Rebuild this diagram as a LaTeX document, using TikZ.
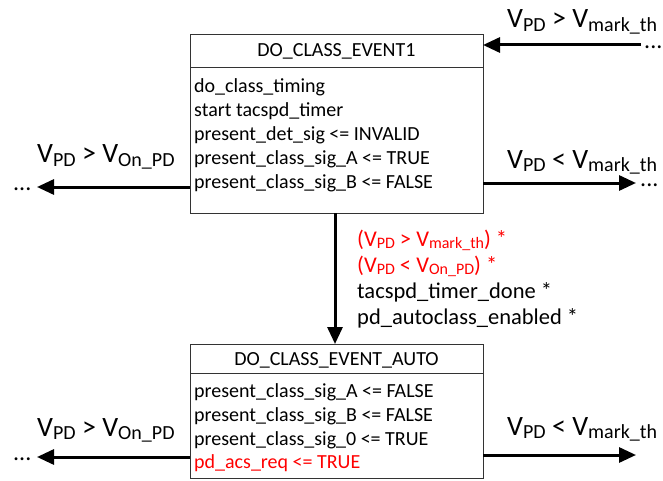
\documentclass[tikz,border=0pt]{standalone}
\usepackage{fontspec}
\setmainfont{Carlito}
\usetikzlibrary{arrows.meta}
\newcommand\sbs[1]{\raisebox{-3.5pt}{\fontsize{20}{20}\selectfont #1}}
\newcommand\sbm[1]{\raisebox{-2.8pt}{\fontsize{16}{16}\selectfont #1}}
\definecolor{redtxt}{RGB}{255,0,0}
\begin{document}
\begin{tikzpicture}[x=1pt,y=-1pt,
  box/.style={draw=black!80, line width=0.9pt, fill=white, inner sep=0pt, anchor=north west},
  ln/.style={anchor=base west, inner sep=0pt, font=\fontsize{20}{24}\selectfont},
  hd/.style={anchor=base, inner sep=0pt, font=\fontsize{20}{24}\selectfont},
  lbl/.style={anchor=base west, inner sep=0pt, font=\fontsize{28}{32}\selectfont},
  cnd/.style={anchor=base west, inner sep=0pt, font=\fontsize{22.5}{26}\selectfont},
  dts/.style={anchor=base west, inner sep=0pt, font=\fontsize{24}{26}\selectfont},
  arr/.style={line width=3pt, -{Triangle[length=17pt,width=15pt]}}
]
\useasboundingbox (0,0) rectangle (663,481);

% box 1
\node[box, minimum width=293pt, minimum height=33pt] (h1) at (190,34) {};
\node[box, minimum width=293pt, minimum height=146pt] (b1) at (190,67) {};
\node[hd] (h1t) at (336.5,57) {DO\_CLASS\_EVENT1};
\node[ln] (l11) at (194,93) {do\_class\_timing};
\node[ln] (l12) at (194,117) {start tacspd\_timer};
\node[ln] (l13) at (194,141) {present\_det\_sig <= INVALID};
\node[ln] (l14) at (194,164.5) {present\_class\_sig\_A <= TRUE};
\node[ln] (l15) at (194,188) {present\_class\_sig\_B <= FALSE};

% box 2
\node[box, minimum width=293pt, minimum height=29pt] (h2) at (190,344) {};
\node[box, minimum width=293pt, minimum height=105pt] (b2) at (190,373) {};
\node[hd] (h2t) at (336.5,365) {DO\_CLASS\_EVENT\_AUTO};
\node[ln] (l21) at (194,397) {present\_class\_sig\_A <= FALSE};
\node[ln] (l22) at (194,421) {present\_class\_sig\_B <= FALSE};
\node[ln] (l23) at (194,445) {present\_class\_sig\_0 <= TRUE};
\node[ln, text=redtxt] (l24) at (194,468) {pd\_acs\_req <= TRUE};

% coordinates
\coordinate (trS) at (641,45);
\coordinate (trE) at (483,45);
\coordinate (l1S) at (190,187);
\coordinate (l1E) at (37,187);
\coordinate (r1S) at (483,183);
\coordinate (r1E) at (636,183);
\coordinate (vS) at (335,213);
\coordinate (vE) at (335,344);
\coordinate (l2S) at (190,457);
\coordinate (l2E) at (37,457);
\coordinate (r2S) at (483,455);
\coordinate (r2E) at (636,455);

\draw[arr] (trS) -- (trE);
\draw[arr] (l1S) -- (l1E);
\draw[arr] (r1S) -- (r1E);
\draw[arr] (vS) -- (vE);
\draw[arr] (l2S) -- (l2E);
\draw[arr] (r2S) -- (r2E);

% dots
\node[dts] (d1) at (644,48.5) {...};
\node[dts] (d2) at (13,190.5) {...};
\node[dts] (d3) at (640,186.5) {...};
\node[dts] (d4) at (13,460.5) {...};

% labels
\node[lbl] (t1) at (507,28) {V\sbs{PD} > V\sbs{mark\_th}};
\node[lbl] (t2) at (37,163) {V\sbs{PD} > V\sbs{On\_PD}};
\node[lbl] (t3) at (507,168) {V\sbs{PD} < V\sbs{mark\_th}};
\node[lbl] (t4) at (37,436) {V\sbs{PD} > V\sbs{On\_PD}};
\node[lbl] (t5) at (507,435) {V\sbs{PD} < V\sbs{mark\_th}};

% conditions
\node[cnd, text=redtxt] (c1) at (357,246) {(V\sbm{PD} > V\sbm{mark\_th}) *};
\node[cnd, text=redtxt] (c2) at (357,272) {(V\sbm{PD} < V\sbm{On\_PD}) *};
\node[cnd] (c3) at (357,298) {tacspd\_timer\_done *};
\node[cnd] (c4) at (357,324) {pd\_autoclass\_enabled *};
\end{tikzpicture}
\end{document}
